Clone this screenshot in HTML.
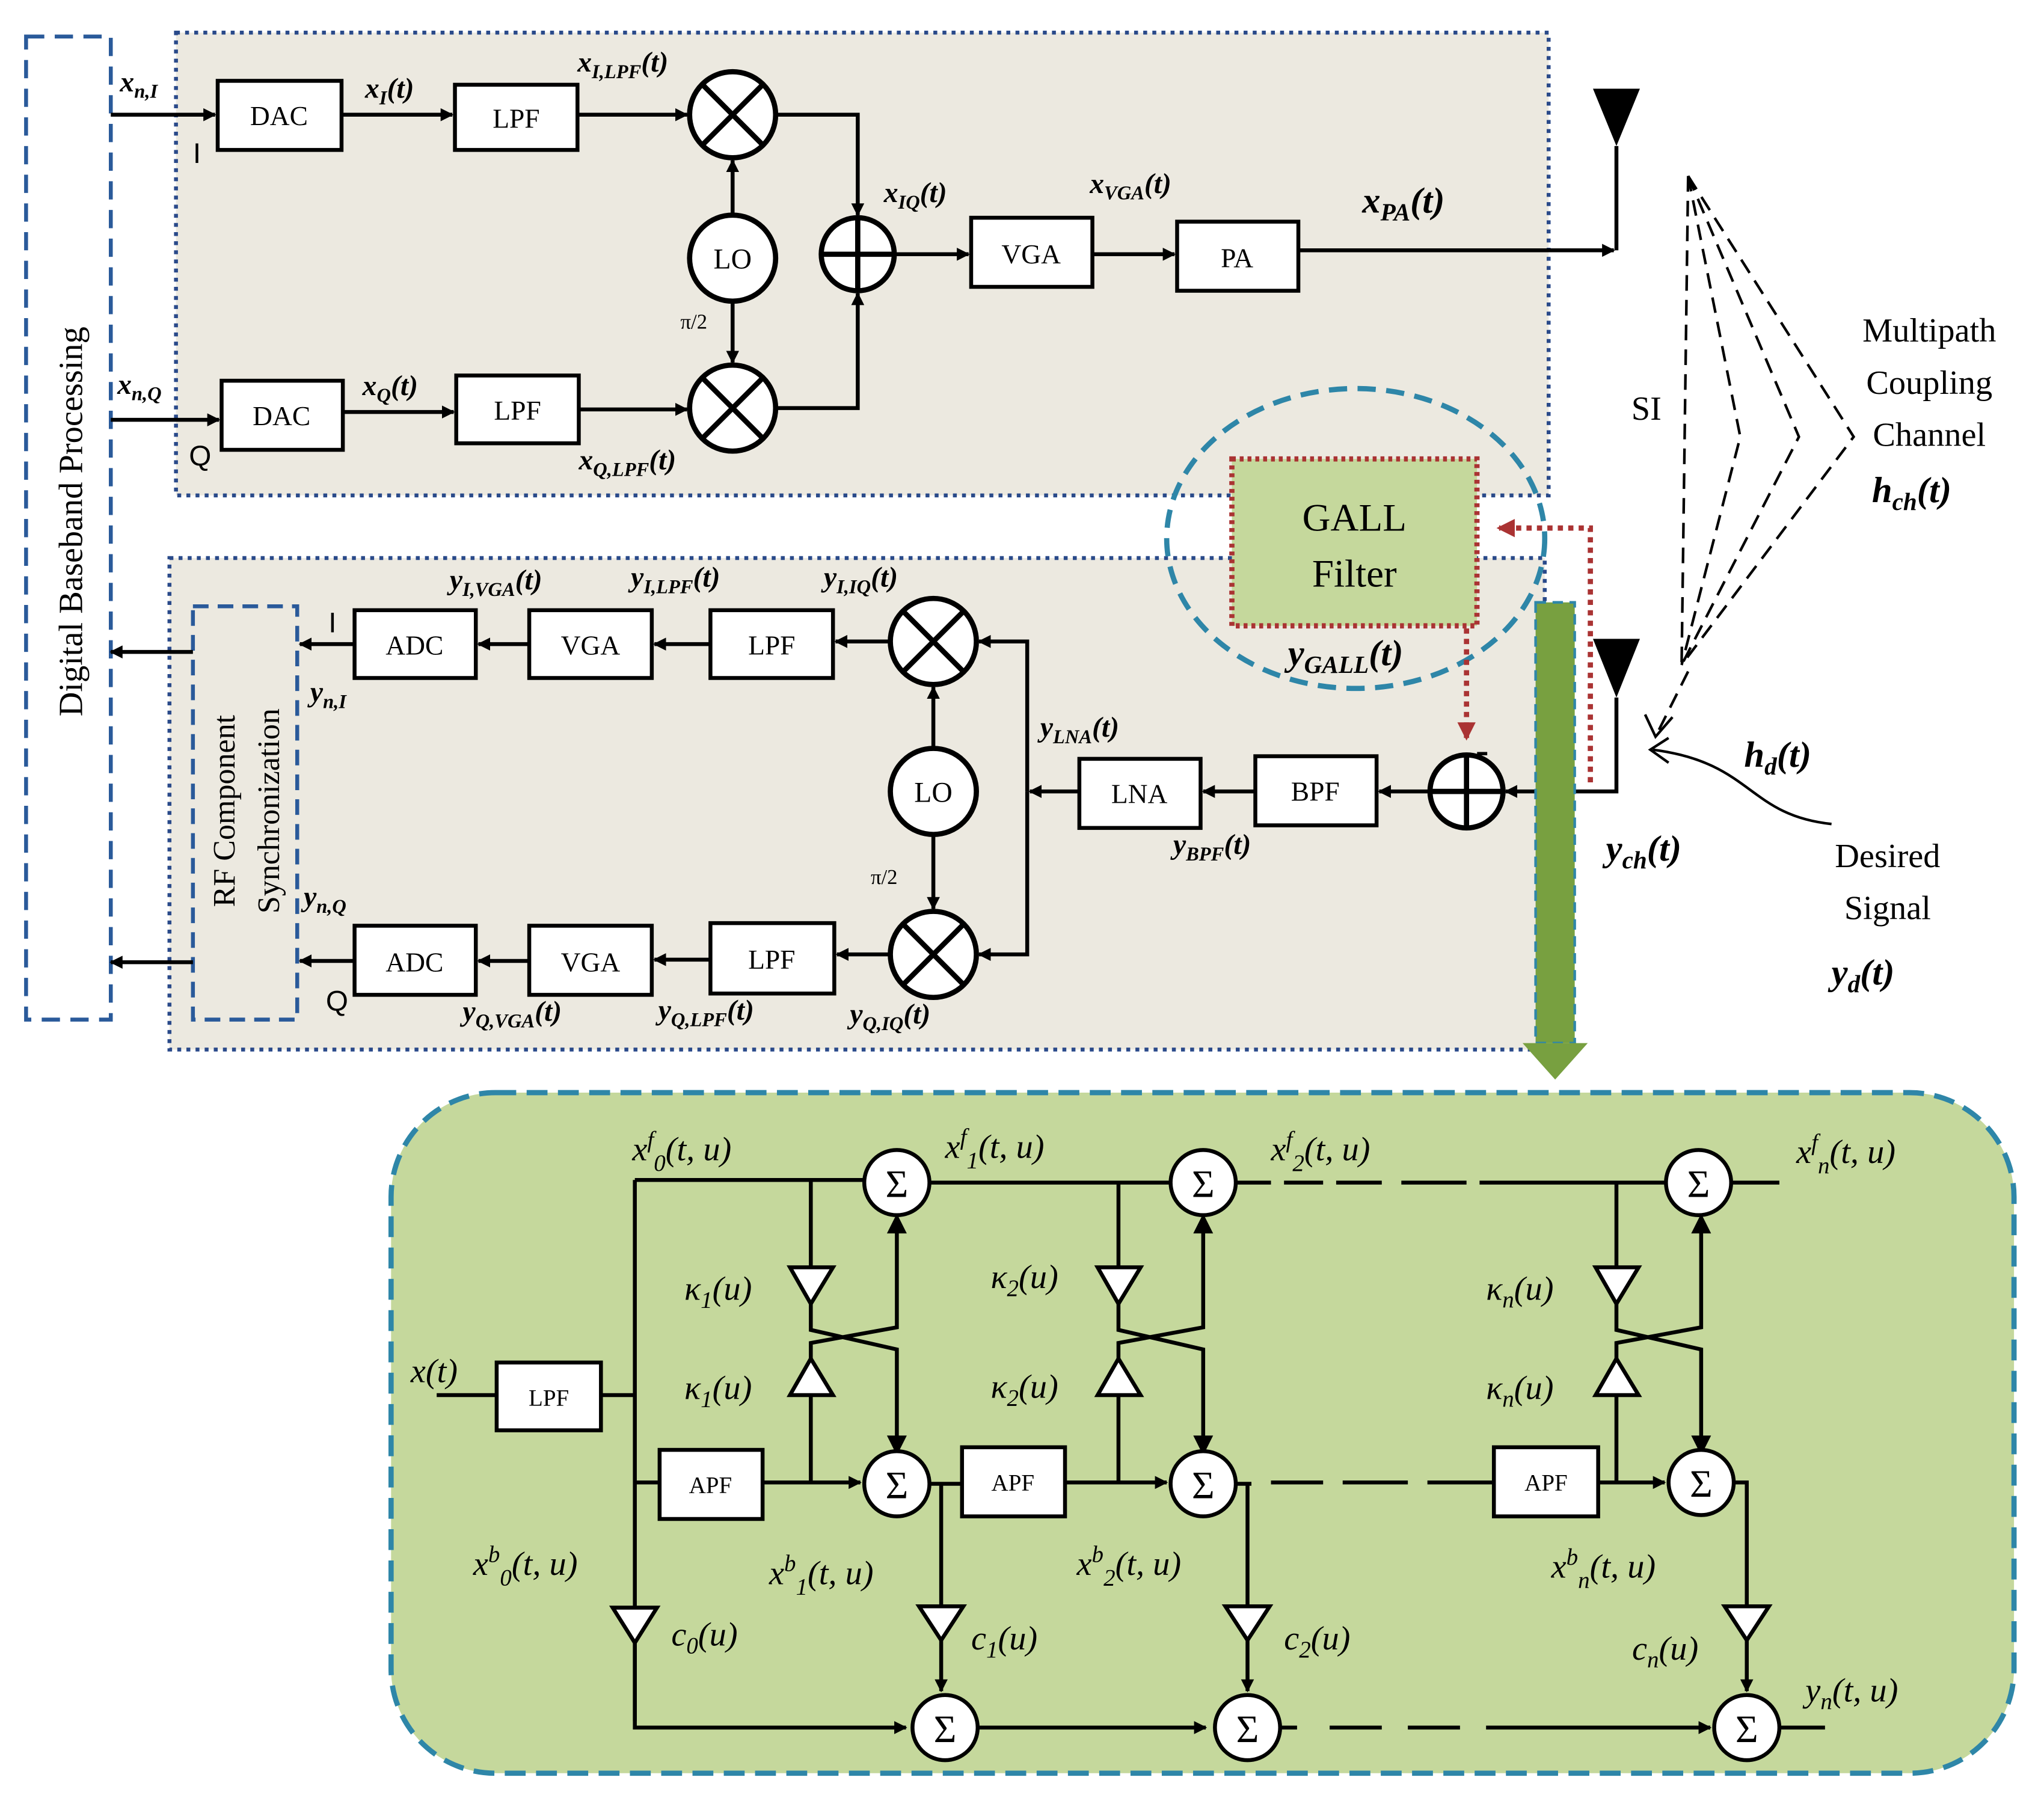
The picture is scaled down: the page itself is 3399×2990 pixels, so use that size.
<!DOCTYPE html>
<html><head><meta charset="utf-8"><style>html,body{margin:0;padding:0;background:#fff}svg{display:block}</style></head>
<body>
<svg width="3399" height="2990" viewBox="0 0 1568 1379" preserveAspectRatio="none" xmlns="http://www.w3.org/2000/svg" font-family="Liberation Serif, serif">
<defs>
<marker id="a" markerWidth="10" markerHeight="10" refX="9" refY="5" orient="auto" markerUnits="userSpaceOnUse"><path d="M0,0 L10,5 L0,10 z" fill="#000"/></marker>
<marker id="r" markerWidth="14" markerHeight="14" refX="12" refY="7" orient="auto" markerUnits="userSpaceOnUse"><path d="M0,0 L14,7 L0,14 z" fill="#a33"/></marker>
</defs>
<g stroke="#000" stroke-width="3" fill="none">
<rect x="135" y="25" width="1053" height="355" fill="#ece9e0" stroke="#2a4a8a" stroke-dasharray="3,4"/>
<rect x="130" y="428" width="1055" height="377" fill="#ece9e0" stroke="#2a4a8a" stroke-dasharray="3,4"/>
<rect x="20" y="28" width="65" height="754" stroke="#2a5a9a" stroke-dasharray="14,8" fill="#fff"/>
<rect x="148" y="465" width="80" height="317" stroke="#2a5a9a" stroke-dasharray="12,7"/>
</g>
<text transform="translate(63,400) rotate(-90)" font-size="26" text-anchor="middle">Digital Baseband Processing</text>
<text transform="translate(180,622) rotate(-90)" font-size="24" text-anchor="middle">RF Component</text>
<text transform="translate(214,622) rotate(-90)" font-size="24" text-anchor="middle">Synchronization</text>

<g stroke="#000" stroke-width="3" fill="#fff">
<rect x="167" y="62" width="95" height="53"/><rect x="349" y="65" width="94" height="50"/>
<rect x="170" y="292" width="93" height="53"/><rect x="350" y="288" width="94" height="52"/>
<rect x="745" y="167" width="93" height="53"/><rect x="903" y="170" width="93" height="53"/>
<rect x="272" y="468" width="93" height="52"/><rect x="406" y="468" width="94" height="52"/><rect x="545" y="468" width="94" height="52"/>
<rect x="272" y="710" width="93" height="53"/><rect x="406" y="710" width="94" height="53"/><rect x="545" y="708" width="95" height="54"/>
<rect x="828" y="582" width="93" height="53"/><rect x="963" y="580" width="93" height="53"/>
</g>
<g font-size="21" text-anchor="middle">
<text x="214" y="96">DAC</text><text x="396" y="98">LPF</text><text x="216" y="326">DAC</text><text x="397" y="322">LPF</text>
<text x="791" y="202">VGA</text><text x="949" y="205">PA</text>
<text x="318" y="502">ADC</text><text x="453" y="502">VGA</text><text x="592" y="502">LPF</text>
<text x="318" y="745">ADC</text><text x="453" y="745">VGA</text><text x="592" y="743">LPF</text>
<text x="874" y="616">LNA</text><text x="1009" y="614">BPF</text>
</g>
<g stroke="#000" stroke-width="3" fill="none" marker-end="url(#a)">
<path d="M85,88 H165"/><path d="M262,88 H347"/><path d="M443,88 H527"/>
<path d="M85,322 H168"/><path d="M263,316 H348"/><path d="M444,314 H527"/>
<path d="M562,165 V123"/><path d="M562,231 V278"/>
<path d="M595,88 H658 V165"/><path d="M595,313 H658 V225"/>
<path d="M686,195 H743"/><path d="M838,195 H901"/><path d="M996,192 H1238"/>
<path d="M272,494 H230"/><path d="M406,494 H367"/><path d="M545,494 H502"/><path d="M683,492 H641"/>
<path d="M272,737 H230"/><path d="M406,737 H367"/><path d="M545,736 H502"/><path d="M683,732 H642"/>
<path d="M716,574 V527"/><path d="M716,640 V697"/>
<path d="M788,607 V492 H751"/><path d="M788,607 V732 H751"/>
<path d="M828,607 H790"/><path d="M963,607 H923"/><path d="M1097,607 H1058"/><path d="M1240,535 V607 H1155"/>
<path d="M148,500 H85"/><path d="M148,738 H85"/>
</g>
<path d="M1240,112 V192" stroke="#000" stroke-width="3"/>
<path d="M1222,68 H1258 L1240,112 z M1222,490 H1258 L1240,535 z" fill="#000"/>
<g stroke="#000" stroke-width="4" fill="#fff">
<circle cx="562" cy="88" r="33"/><circle cx="562" cy="313" r="33"/><circle cx="562" cy="198" r="33"/>
<circle cx="658" cy="195" r="28"/>
<circle cx="716" cy="492" r="33"/><circle cx="716" cy="732" r="33"/><circle cx="716" cy="607" r="33"/>
<circle cx="1125" cy="607" r="28"/>
</g>
<g stroke="#000" stroke-width="4">
<path d="M539,65 L585,111 M585,65 L539,111 M539,290 L585,336 M585,290 L539,336"/>
<path d="M693,469 L739,515 M739,469 L693,515 M693,709 L739,755 M739,709 L693,755"/>
<path d="M630,195 H686 M658,167 V223 M1097,607 H1153 M1125,579 V635"/>
</g>
<text x="562" y="206" font-size="22" text-anchor="middle">LO</text>
<text x="716" y="615" font-size="22" text-anchor="middle">LO</text>
<text x="522" y="252" font-size="16">π/2</text><text x="668" y="678" font-size="16">π/2</text>
<text x="148" y="125" font-size="22" font-family="Liberation Sans">I</text>
<text x="145" y="357" font-size="22" font-family="Liberation Sans">Q</text>
<text x="252" y="485" font-size="22" font-family="Liberation Sans">I</text>
<text x="250" y="775" font-size="22" font-family="Liberation Sans">Q</text>
<text x="1132" y="585" font-size="30" font-weight="bold">-</text>
<g font-size="22" font-style="italic" font-weight="bold">
<text x="92" y="70">x<tspan font-size="15" dy="5">n,I</tspan></text>
<text x="280" y="75">x<tspan font-size="15" dy="5">I</tspan><tspan dy="-5">(t)</tspan></text>
<text x="443" y="55">x<tspan font-size="15" dy="5">I,LPF</tspan><tspan dy="-5">(t)</tspan></text>
<text x="90" y="302">x<tspan font-size="15" dy="5">n,Q</tspan></text>
<text x="278" y="303">x<tspan font-size="15" dy="5">Q</tspan><tspan dy="-5">(t)</tspan></text>
<text x="444" y="360">x<tspan font-size="15" dy="5">Q,LPF</tspan><tspan dy="-5">(t)</tspan></text>
<text x="678" y="155">x<tspan font-size="15" dy="5">IQ</tspan><tspan dy="-5">(t)</tspan></text>
<text x="836" y="148">x<tspan font-size="15" dy="5">VGA</tspan><tspan dy="-5">(t)</tspan></text>
<text x="1045" y="163" font-size="28">x<tspan font-size="19" dy="6">PA</tspan><tspan dy="-6">(t)</tspan></text>
<text x="345" y="452">y<tspan font-size="15" dy="5">I,VGA</tspan><tspan dy="-5">(t)</tspan></text>
<text x="484" y="450">y<tspan font-size="15" dy="5">I,LPF</tspan><tspan dy="-5">(t)</tspan></text>
<text x="632" y="450">y<tspan font-size="15" dy="5">I,IQ</tspan><tspan dy="-5">(t)</tspan></text>
<text x="238" y="538">y<tspan font-size="15" dy="5">n,I</tspan></text>
<text x="233" y="695">y<tspan font-size="15" dy="5">n,Q</tspan></text>
<text x="355" y="783">y<tspan font-size="15" dy="5">Q,VGA</tspan><tspan dy="-5">(t)</tspan></text>
<text x="505" y="782">y<tspan font-size="15" dy="5">Q,LPF</tspan><tspan dy="-5">(t)</tspan></text>
<text x="652" y="785">y<tspan font-size="15" dy="5">Q,IQ</tspan><tspan dy="-5">(t)</tspan></text>
<text x="798" y="565">y<tspan font-size="15" dy="5">LNA</tspan><tspan dy="-5">(t)</tspan></text>
<text x="900" y="655">y<tspan font-size="15" dy="5">BPF</tspan><tspan dy="-5">(t)</tspan></text>
<text x="988" y="510" font-size="28">y<tspan font-size="19" dy="6">GALL</tspan><tspan dy="-6">(t)</tspan></text>
<text x="1232" y="660" font-size="28">y<tspan font-size="19" dy="6">ch</tspan><tspan dy="-6">(t)</tspan></text>
<text x="1436" y="385" font-size="28">h<tspan font-size="19" dy="6">ch</tspan><tspan dy="-6">(t)</tspan></text>
<text x="1338" y="588" font-size="28">h<tspan font-size="19" dy="6">d</tspan><tspan dy="-6">(t)</tspan></text>
<text x="1405" y="755" font-size="28">y<tspan font-size="19" dy="6">d</tspan><tspan dy="-6">(t)</tspan></text>
</g>
<g font-size="26" text-anchor="middle">
<text x="1480" y="262">Multipath</text><text x="1480" y="302">Coupling</text><text x="1480" y="342">Channel</text>
<text x="1263" y="322">SI</text>
<text x="1448" y="665">Desired</text><text x="1448" y="705">Signal</text>
</g>
<g stroke="#000" stroke-width="2" fill="none" stroke-dasharray="12,7">
<path d="M1295,135 L1290,510"/><path d="M1295,135 L1335,335 L1290,510"/>
<path d="M1295,135 L1380,335 L1290,510"/><path d="M1295,135 L1422,335 L1290,510"/>
<path d="M1295,515 L1270,565"/>
</g>
<path d="M1405,632 C1340,625 1345,585 1268,575" stroke="#000" stroke-width="2" fill="none"/>
<path d="M1280,566 L1266,575 L1280,585" stroke="#000" stroke-width="2" fill="none"/>
<path d="M1262,548 L1270,565 L1283,550" stroke="#000" stroke-width="2" fill="none"/>
<ellipse cx="1040" cy="413" rx="145" ry="115" fill="none" stroke="#2e86a8" stroke-width="4" stroke-dasharray="14,8"/>
<rect x="945" y="352" width="188" height="128" fill="#c5d89c" stroke="#a33" stroke-width="4" stroke-dasharray="3,3"/>
<text x="1039" y="407" font-size="30" text-anchor="middle">GALL</text>
<text x="1039" y="450" font-size="30" text-anchor="middle">Filter</text>
<path d="M1220,600 V405 H1150" stroke="#a33" stroke-width="4" stroke-dasharray="4,4" fill="none" marker-end="url(#r)"/>
<path d="M1125,482 V566" stroke="#a33" stroke-width="4" stroke-dasharray="4,4" fill="none" marker-end="url(#r)"/>
<rect x="1178" y="462" width="30" height="338" fill="#78a040" stroke="#2e86a8" stroke-width="2" stroke-dasharray="8,5"/>
<path d="M1168,800 H1218 L1193,828 z" fill="#78a040"/>
<rect x="300" y="838" width="1245" height="522" rx="80" fill="#c5d89c" stroke="#2e86a8" stroke-width="4" stroke-dasharray="16,8"/>
<g stroke="#000" stroke-width="3" fill="none">
<path d="M487,905 H663 M713,907 H898 M948,907 H975 M985,907 H1015 M1025,907 H1060 M1075,907 H1125 M1135,907 H1278 M1328,907 H1365"/>
<path d="M487,905 V1325 H695" marker-end="url(#a)"/>
<path d="M335,1070 H381 M461,1070 H487 M487,1137 H506"/>
<path d="M585,1137 H660" marker-end="url(#a)"/>
<path d="M817,1137 H895" marker-end="url(#a)"/>
<path d="M1226,1137 H1277" marker-end="url(#a)"/>
<path d="M713,1138 H738"/>
<path d="M948,1138 H960 M975,1137 H1015 M1030,1137 H1080 M1095,1137 H1146"/>
<path d="M1330,1137 H1340 V1232"/>
<path d="M750,1325 H925" marker-end="url(#a)"/>
<path d="M982,1325 H995 M1020,1325 H1060 M1080,1325 H1120 M1140,1325 H1312" marker-end="url(#a)"/>
<path d="M1365,1325 H1400"/>
<path d="M722,1138 V1232 M722,1258 V1297" marker-end="url(#a)"/>
<path d="M957,1138 V1232 M957,1258 V1297" marker-end="url(#a)"/>
<path d="M1340,1258 V1297" marker-end="url(#a)"/>
<path d="M487,1260 V1320"/>
</g>
<g stroke="#000" stroke-width="3" fill="none">
<path d="M622,905 V972 M622,1000 V1020 L688,1035 V1110"/>
<path d="M622,1137 V1070 M622,1042 V1030 L688,1018 V938"/>
<path d="M858,907 V972 M858,1000 V1020 L923,1035 V1110"/>
<path d="M858,1137 V1070 M858,1042 V1030 L923,1018 V938"/>
<path d="M1240,907 V972 M1240,1000 V1020 L1305,1035 V1110"/>
<path d="M1240,1137 V1070 M1240,1042 V1030 L1305,1018 V938"/>
</g>
<path d="M682,945 L688,933 L694,945 z M917,945 L923,933 L929,945 z M1299,945 L1305,933 L1311,945 z M682,1102 L688,1114 L694,1102 z M917,1102 L923,1114 L929,1102 z M1299,1102 L1305,1114 L1311,1102 z" fill="#000" stroke="#000" stroke-width="2"/>
<g stroke="#000" stroke-width="3" fill="#fff">
<path d="M606,972 H639 L622,1000 z"/><path d="M606,1070 H639 L622,1042 z"/>
<path d="M842,972 H875 L858,1000 z"/><path d="M842,1070 H875 L858,1042 z"/>
<path d="M1224,972 H1257 L1240,1000 z"/><path d="M1224,1070 H1257 L1240,1042 z"/>
<path d="M470,1233 H504 L487,1260 z"/><path d="M705,1232 H739 L722,1258 z"/>
<path d="M940,1232 H974 L957,1258 z"/><path d="M1323,1232 H1357 L1340,1258 z"/>
<rect x="381" y="1045" width="80" height="52"/><rect x="506" y="1112" width="79" height="53"/>
<rect x="738" y="1110" width="79" height="53"/><rect x="1146" y="1110" width="80" height="53"/>
<circle cx="688" cy="907" r="25"/><circle cx="923" cy="907" r="25"/><circle cx="1303" cy="907" r="25"/>
<circle cx="688" cy="1138" r="25"/><circle cx="923" cy="1138" r="25"/><circle cx="1305" cy="1137" r="25"/>
<circle cx="725" cy="1325" r="25"/><circle cx="957" cy="1325" r="25"/><circle cx="1340" cy="1325" r="25"/>
</g>
<g font-size="30" text-anchor="middle">
<text x="688" y="918">Σ</text><text x="923" y="918">Σ</text><text x="1303" y="918">Σ</text>
<text x="688" y="1149">Σ</text><text x="923" y="1149">Σ</text><text x="1305" y="1148">Σ</text>
<text x="725" y="1336">Σ</text><text x="957" y="1336">Σ</text><text x="1340" y="1336">Σ</text>
</g>
<g font-size="18" text-anchor="middle">
<text x="421" y="1078">LPF</text><text x="545" y="1145">APF</text><text x="777" y="1143">APF</text><text x="1186" y="1143">APF</text>
</g>
<g font-size="26" font-style="italic">
<text x="485" y="890">x<tspan font-size="18" dy="-10">f</tspan><tspan font-size="18" dy="18">0</tspan><tspan dy="-8">(t, u)</tspan></text>
<text x="725" y="888">x<tspan font-size="18" dy="-10">f</tspan><tspan font-size="18" dy="18">1</tspan><tspan dy="-8">(t, u)</tspan></text>
<text x="975" y="890">x<tspan font-size="18" dy="-10">f</tspan><tspan font-size="18" dy="18">2</tspan><tspan dy="-8">(t, u)</tspan></text>
<text x="1378" y="892">x<tspan font-size="18" dy="-10">f</tspan><tspan font-size="18" dy="18">n</tspan><tspan dy="-8">(t, u)</tspan></text>
<text x="525" y="997">κ<tspan font-size="18" dy="6">1</tspan><tspan dy="-6">(u)</tspan></text>
<text x="525" y="1073">κ<tspan font-size="18" dy="6">1</tspan><tspan dy="-6">(u)</tspan></text>
<text x="760" y="988">κ<tspan font-size="18" dy="6">2</tspan><tspan dy="-6">(u)</tspan></text>
<text x="760" y="1072">κ<tspan font-size="18" dy="6">2</tspan><tspan dy="-6">(u)</tspan></text>
<text x="1140" y="997">κ<tspan font-size="18" dy="6">n</tspan><tspan dy="-6">(u)</tspan></text>
<text x="1140" y="1073">κ<tspan font-size="18" dy="6">n</tspan><tspan dy="-6">(u)</tspan></text>
<text x="315" y="1060">x(t)</text>
<text x="363" y="1208">x<tspan font-size="18" dy="-10">b</tspan><tspan font-size="18" dy="18">0</tspan><tspan dy="-8">(t, u)</tspan></text>
<text x="590" y="1215">x<tspan font-size="18" dy="-10">b</tspan><tspan font-size="18" dy="18">1</tspan><tspan dy="-8">(t, u)</tspan></text>
<text x="826" y="1208">x<tspan font-size="18" dy="-10">b</tspan><tspan font-size="18" dy="18">2</tspan><tspan dy="-8">(t, u)</tspan></text>
<text x="1190" y="1210">x<tspan font-size="18" dy="-10">b</tspan><tspan font-size="18" dy="18">n</tspan><tspan dy="-8">(t, u)</tspan></text>
<text x="515" y="1262">c<tspan font-size="18" dy="6">0</tspan><tspan dy="-6">(u)</tspan></text>
<text x="745" y="1265">c<tspan font-size="18" dy="6">1</tspan><tspan dy="-6">(u)</tspan></text>
<text x="985" y="1265">c<tspan font-size="18" dy="6">2</tspan><tspan dy="-6">(u)</tspan></text>
<text x="1252" y="1273">c<tspan font-size="18" dy="6">n</tspan><tspan dy="-6">(u)</tspan></text>
<text x="1385" y="1305">y<tspan font-size="18" dy="6">n</tspan><tspan dy="-6">(t, u)</tspan></text>
</g>
</svg>
</body></html>
